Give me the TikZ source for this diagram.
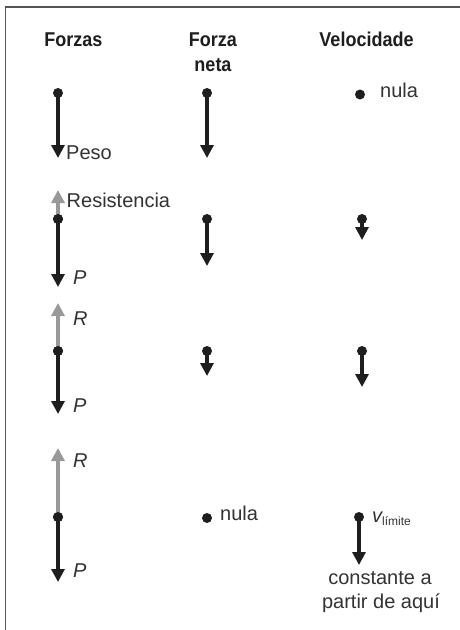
\documentclass[tikz,border=0pt]{standalone}
\usepackage{fontspec}
\setmainfont{Liberation Sans}
\newfontfamily\hdrfont[FakeStretch=0.9]{Liberation Sans}
\usetikzlibrary{arrows.meta}
\definecolor{ink}{HTML}{1E1E1E}
\definecolor{txt}{HTML}{333333}
\definecolor{resgray}{HTML}{999999}
\definecolor{framegray}{HTML}{555555}
\tikzset{
  x=1pt, y=-1pt,
  dot/.style={circle, fill=ink, inner sep=0pt, minimum size=10pt},
  vec/.style={draw=ink, line width=3.2pt, -{Triangle[width=13pt,length=13pt]}, shorten <=-4pt},
  resvec/.style={draw=resgray, line width=3.2pt, -{Triangle[width=13pt,length=13pt]}, shorten <=-4pt},
  hdr/.style={font=\hdrfont\bfseries\fontsize{20}{25}\selectfont, text=ink, inner sep=0pt, anchor=base},
  lbl/.style={font=\fontsize{20}{24}\selectfont, text=txt, inner sep=0pt, anchor=base west},
  ilbl/.style={font=\itshape\fontsize{20}{24}\selectfont, text=txt, inner sep=0pt, anchor=base west},
}
\begin{document}
\begin{tikzpicture}
\useasboundingbox (0,0) rectangle (460,630);
\fill[white] (0,0) rectangle (460,630);
\draw[framegray, line width=1.8pt] (5.5,630) -- (5.5,7) -- (460,7);

% headers
\node[hdr] (h1) at (73.5,46.5) {Forzas};
\node[hdr] (h2) at (213,46.5) {Forza};
\node[hdr] (h2b) at (213,71.5) {neta};
\node[hdr] (h3) at (366.5,46.5) {Velocidade};

% row 1
\node[dot] (f1) at (58,93) {};
\coordinate (f1p) at (58,158);
\draw[vec] (f1) -- (f1p);
\node[lbl] (peso) at (66,159.5) {Peso};
\node[dot] (n1) at (207,93) {};
\coordinate (n1p) at (207,158);
\draw[vec] (n1) -- (n1p);
\node[dot] (v1) at (360,94.5) {};
\node[lbl] (v1l) at (380,97) {nula};

% row 2
\node[dot] (f2) at (58,219) {};
\coordinate (f2r) at (58,190);
\coordinate (f2p) at (58,287);
\draw[resvec] (f2) -- (f2r);
\draw[vec] (f2) -- (f2p);
\node[dot] (f2c) at (58,219) {};
\node[lbl] (res) at (66.5,207) {Resistencia};
\node[ilbl] (p2) at (73,284) {P};
\node[dot] (n2) at (207,219) {};
\coordinate (n2p) at (207,266);
\draw[vec] (n2) -- (n2p);
\node[dot] (v2) at (362,219) {};
\coordinate (v2p) at (362,240);
\draw[vec] (v2) -- (v2p);

% row 3
\node[dot] (f3) at (58,351) {};
\coordinate (f3r) at (58,303);
\coordinate (f3p) at (58,414);
\draw[resvec] (f3) -- (f3r);
\draw[vec] (f3) -- (f3p);
\node[dot] (f3c) at (58,351) {};
\node[ilbl] (r3) at (73,325) {R};
\node[ilbl] (p3) at (73,412) {P};
\node[dot] (n3) at (207,351) {};
\coordinate (n3p) at (207,376);
\draw[vec] (n3) -- (n3p);
\node[dot] (v3) at (362,351) {};
\coordinate (v3p) at (362,387);
\draw[vec] (v3) -- (v3p);

% row 4
\node[dot] (f4) at (58,517) {};
\coordinate (f4r) at (58,448);
\coordinate (f4p) at (58,582);
\draw[resvec] (f4) -- (f4r);
\draw[vec] (f4) -- (f4p);
\node[dot] (f4c) at (58,517) {};
\node[ilbl] (r4) at (73,467) {R};
\node[ilbl] (p4) at (73,577) {P};
\node[dot] (n4) at (207,518) {};
\node[lbl] (n4l) at (220,520) {nula};
\node[dot] (v4) at (359,517) {};
\coordinate (v4p) at (359,565);
\draw[vec] (v4) -- (v4p);
\node[ilbl] (vl) at (372,522) {v\raisebox{-3pt}{\upshape\fontsize{12}{14}\selectfont límite}};
\node[font=\fontsize{20}{24}\selectfont, text=txt, inner sep=0pt, anchor=base] (c1) at (380,584) {constante a};
\node[font=\fontsize{20}{24}\selectfont, text=txt, inner sep=0pt, anchor=base] (c2) at (381,608) {partir de aquí};
\end{tikzpicture}
\end{document}
